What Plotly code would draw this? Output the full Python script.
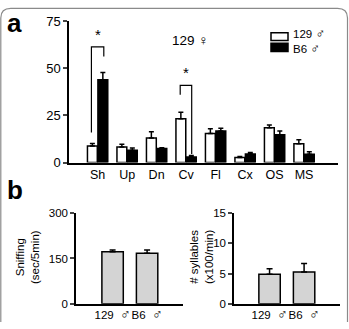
import plotly.graph_objects as go

# ---- data ----
categories = ["Sh", "Up", "Dn", "Cv", "Fl", "Cx", "OS", "MS"]
m129_vals = [8.8, 8.3, 13.1, 23.3, 15.5, 2.7, 18.5, 10.0]
m129_err = [1.3, 1.4, 3.2, 3.4, 2.5, 0.5, 1.5, 2.1]
b6_vals = [44.0, 6.6, 7.5, 2.9, 16.7, 4.6, 14.8, 4.4]
b6_err = [3.8, 1.2, 0.4, 0.8, 1.5, 0.7, 2.0, 1.4]

MALE = "<span style='font-size:13px'>\u2642</span>"
MALE_B = "<span style='font-size:14px'>\u2642</span>"
FEMALE = "<span style='font-size:14px'>\u2640</span>"
NB = "\u00a0"
strains_b = ["129" + NB * 2 + MALE_B, "B6" + NB * 2 + MALE_B]
sniff_vals = [172, 167]
sniff_err = [6, 11]
syll_vals = [4.9, 5.25]
syll_err = [0.9, 1.4]

W, H = 349, 329
FONT = "Liberation Sans, Arial, sans-serif"


def px(x):
    return x / W


def py(y):
    return 1 - y / H


fig = go.Figure()
xpos = list(range(len(categories)))

fig.add_trace(go.Bar(
    x=xpos, y=m129_vals, name="129", xaxis="x", yaxis="y",
    marker=dict(color="white", line=dict(color="black", width=1.5)),
    error_y=dict(type="data", array=m129_err, arrayminus=[0] * len(m129_err),
                 symmetric=False, color="black", thickness=1.5, width=2.5),
    showlegend=False,
))
fig.add_trace(go.Bar(
    x=xpos, y=b6_vals, name="B6", xaxis="x", yaxis="y",
    marker=dict(color="black", line=dict(color="black", width=1.5)),
    error_y=dict(type="data", array=b6_err, arrayminus=[0] * len(b6_err),
                 symmetric=False, color="black", thickness=1.5, width=2.5),
    showlegend=False,
))

fig.add_trace(go.Bar(
    x=[0, 1], y=sniff_vals, xaxis="x2", yaxis="y2", width=0.62,
    marker=dict(color="#d4d4d4", line=dict(color="black", width=1.5)),
    error_y=dict(type="data", array=sniff_err, arrayminus=[0, 0], symmetric=False,
                 color="black", thickness=1.5, width=3),
    showlegend=False, offsetgroup="b1",
))
fig.add_trace(go.Bar(
    x=[0, 1], y=syll_vals, xaxis="x3", yaxis="y3", width=0.62,
    marker=dict(color="#d4d4d4", line=dict(color="black", width=1.5)),
    error_y=dict(type="data", array=syll_err, arrayminus=[0, 0], symmetric=False,
                 color="black", thickness=1.5, width=3),
    showlegend=False, offsetgroup="b2",
))

axis_common = dict(showline=True, linecolor="black", linewidth=1.5, showgrid=False,
                   zeroline=False, fixedrange=True, tickangle=0)

fig.update_layout(
    width=W, height=H, margin=dict(l=0, r=0, t=0, b=0),
    paper_bgcolor="white", plot_bgcolor="rgba(0,0,0,0)",
    barmode="group", bargap=0.29, bargroupgap=0.06,
    font=dict(family=FONT, color="black"),
    xaxis=dict(domain=[px(69), px(338)], range=[-0.97, 8.15], anchor="y",
               tickmode="array", tickvals=xpos, ticktext=categories, ticks="",
               tickfont=dict(size=12.5), **axis_common),
    yaxis=dict(domain=[py(163), py(15)], range=[0, 75], anchor="x",
               tickvals=[0, 25, 50, 75], ticks="outside", ticklen=4, tickwidth=1.5,
               tickfont=dict(size=13), **axis_common),
    xaxis2=dict(domain=[px(76), px(183)], range=[-1.06, 2.04], anchor="y2",
                tickmode="array", tickvals=[0, 1], ticktext=strains_b, ticks="",
                tickfont=dict(size=11.5), **axis_common),
    yaxis2=dict(domain=[py(311), py(216)], range=[0, 300], anchor="x2",
                tickvals=[0, 150, 300], ticks="outside", ticklen=4, tickwidth=1.5,
                tickfont=dict(size=11.5), **axis_common),
    xaxis3=dict(domain=[px(234), px(340)], range=[-1.03, 2.04], anchor="y3",
                tickmode="array", tickvals=[0, 1], ticktext=strains_b, ticks="",
                tickfont=dict(size=11.5), **axis_common),
    yaxis3=dict(domain=[py(311), py(216)], range=[0, 15], anchor="x3",
                tickvals=[0, 5, 10, 15], ticks="outside", ticklen=4, tickwidth=1.5,
                tickfont=dict(size=11.5), **axis_common),
)

shapes = []
# significance brackets (panel a)
line = dict(color="black", width=1.2)
shapes.append(dict(type="path", xref="x", yref="y",
                   path="M -0.21 16 L -0.21 61.4 L 0.21 61.4 L 0.21 56.3", line=line))
shapes.append(dict(type="path", xref="x", yref="y",
                   path="M 2.8 36 L 2.8 41 L 3.19 41 L 3.19 4.5", line=line))
# legend boxes
shapes.append(dict(type="rect", xref="paper", yref="paper",
                   x0=px(271), x1=px(288), y0=py(35), y1=py(27),
                   fillcolor="white", line=dict(color="black", width=1.5)))
shapes.append(dict(type="rect", xref="paper", yref="paper",
                   x0=px(271), x1=px(288), y0=py(46.5), y1=py(38),
                   fillcolor="black", line=dict(color="black", width=1.5)))
# rounded frame
r = 10
path = (f"M {px(0.8)} {py(330)} L {px(0.8)} {py(1.5 + r)} "
        f"Q {px(0.8)} {py(1.5)} {px(0.8 + r)} {py(1.5)} "
        f"L {px(347.5 - r)} {py(1.5)} Q {px(347.5)} {py(1.5)} {px(347.5)} {py(1.5 + r)} "
        f"L {px(347.5)} {py(330)}")
shapes.append(dict(type="path", xref="paper", yref="paper", path=path,
                   line=dict(color="#8a8a8a", width=1.2)))
fig.update_layout(shapes=shapes)


def note(text, x, y, size, xanchor="center", angle=0):
    return dict(text=text, x=px(x), y=py(y), xref="paper", yref="paper",
                showarrow=False, xanchor=xanchor, yanchor="middle",
                textangle=angle, font=dict(size=size))


ann = []
ann.append(dict(text="*", x=0, y=62.5, xref="x", yref="y", showarrow=False,
                xanchor="center", yanchor="bottom", font=dict(size=15)))
ann.append(dict(text="*", x=3.0, y=42, xref="x", yref="y", showarrow=False,
                xanchor="center", yanchor="bottom", font=dict(size=15)))
ann.append(note("129 " + FEMALE, 190, 35, 13.5))
ann.append(note("129 " + MALE + "<br>B6 " + MALE, 291, 35.5, 11.5, xanchor="left"))
ann[-1]["align"] = "left"
ann.append(note("<b>a</b>", 5, 17, 26, xanchor="left"))
ann.append(note("<b>b</b>", 5, 192, 26, xanchor="left"))
ann.append(note("Sniffing<br>(sec/5min)", 27, 262, 11.5, angle=-90))
ann.append(note("# syllables<br>(x100/min)", 201, 262, 11.5, angle=-90))
fig.update_layout(annotations=ann)

fig.write_html("out.html")
